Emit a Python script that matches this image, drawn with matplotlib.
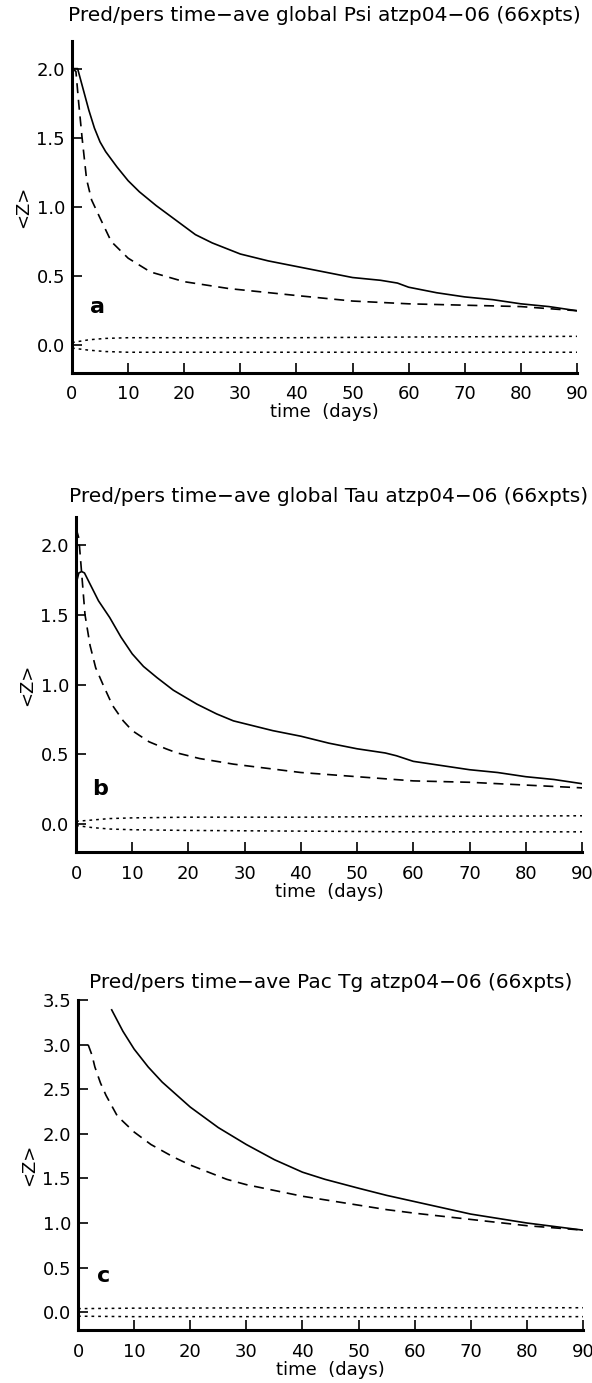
import numpy as np
import matplotlib.pyplot as plt

plt.rcParams['font.family'] = 'DejaVu Sans'

# Panel a: global Psi
ta_solid = [0, 1, 2, 3, 4, 5, 6, 8, 10, 12, 15, 18, 20, 22, 25, 30, 35, 40, 45, 50, 55, 58, 60, 65, 70, 75, 80, 85, 90]
va_solid = [2.0, 2.0, 1.85, 1.7, 1.57, 1.47, 1.40, 1.29, 1.19, 1.11, 1.01, 0.92, 0.86, 0.8, 0.74, 0.66, 0.61,
            0.57, 0.53, 0.49, 0.47, 0.45, 0.42, 0.38, 0.35, 0.33, 0.30, 0.28, 0.25]
ta_dash = [0, 0.7, 1.2, 1.8, 2.6, 3.5, 5, 7, 10, 14, 20, 28, 40, 50, 60, 70, 80, 90]
va_dash = [2.0, 1.98, 1.75, 1.5, 1.2, 1.05, 0.92, 0.75, 0.63, 0.53, 0.46, 0.41, 0.36, 0.32, 0.30, 0.29, 0.28, 0.25]
ta_dot = [0, 3, 6, 10, 20, 40, 60, 90]
va_dot_hi = [0.02, 0.04, 0.05, 0.055, 0.055, 0.055, 0.06, 0.065]
va_dot_lo = [-0.02, -0.035, -0.045, -0.05, -0.05, -0.05, -0.05, -0.05]

# Panel b: global Tau
tb_solid = [0, 0.5, 1, 1.5, 2.5, 4, 6, 8, 10, 12, 14.4, 17.3, 21.5, 25, 28, 35, 40, 45, 50, 55, 57, 60, 65, 70, 75, 80, 85, 90]
vb_solid = [1.72, 1.8, 1.81, 1.8, 1.72, 1.6, 1.48, 1.34, 1.22, 1.13, 1.05, 0.96, 0.86, 0.79, 0.74, 0.67,
            0.63, 0.58, 0.54, 0.51, 0.49, 0.45, 0.42, 0.39, 0.37, 0.34, 0.32, 0.29]
tb_dash = [0, 0.5, 1, 1.6, 2.5, 3.5, 4.8, 6.5, 8.4, 10, 13, 16, 18, 22, 28, 34, 40, 50, 60, 70, 80, 90]
vb_dash = [2.12, 2.05, 1.8, 1.5, 1.28, 1.12, 1.0, 0.85, 0.74, 0.67, 0.59, 0.54, 0.51, 0.47, 0.43, 0.40,
           0.37, 0.34, 0.31, 0.30, 0.28, 0.26]
tb_dot = [0, 3, 6, 10, 20, 40, 60, 90]
vb_dot_hi = [0.02, 0.03, 0.04, 0.045, 0.05, 0.05, 0.055, 0.06]
vb_dot_lo = [-0.01, -0.025, -0.035, -0.04, -0.045, -0.05, -0.055, -0.055]

# Panel c: Pac Tg
tc_solid = [6, 8, 10, 12.5, 15, 20, 25, 30, 35, 40, 44, 50, 55, 60, 65, 70, 75, 80, 85, 90]
vc_solid = [3.39, 3.15, 2.95, 2.75, 2.58, 2.3, 2.07, 1.88, 1.71, 1.57, 1.49, 1.39, 1.31, 1.24, 1.17,
            1.10, 1.05, 1.0, 0.96, 0.92]
tc_dash = [1.8, 2.5, 3, 4, 5, 7, 10, 13, 17, 20, 26.5, 30, 40, 50, 55, 60, 70, 80, 90]
vc_dash = [3.0, 2.88, 2.75, 2.57, 2.43, 2.2, 2.02, 1.88, 1.74, 1.65, 1.49, 1.43, 1.3, 1.2, 1.15, 1.11,
           1.04, 0.97, 0.92]
tc_dot = [0, 10, 40, 90]
vc_dot_hi = [0.04, 0.045, 0.05, 0.05]
vc_dot_lo = [-0.045, -0.05, -0.05, -0.05]

titles = ["Pred/pers time\u2212ave global Psi atzp04\u221206 (66xpts)",
          "Pred/pers time\u2212ave global Tau atzp04\u221206 (66xpts)",
          "Pred/pers time\u2212ave Pac Tg atzp04\u221206 (66xpts)"]
letters = ["a", "b", "c"]
letter_pos = [(4.6, 0.28), (4.3, 0.25), (4.6, 0.41)]
ylims = [(-0.2, 2.2), (-0.2, 2.2), (-0.2, 3.5)]
yticks = [np.arange(0, 2.01, 0.5), np.arange(0, 2.01, 0.5), np.arange(0, 3.51, 0.5)]
rects = [[0.1216, 0.7303, 0.853, 0.2401],
         [0.1284, 0.3839, 0.8547, 0.2422],
         [0.1318, 0.0383, 0.853, 0.2386]]
title_pads = [14, 11, 9]

data = [
    (ta_solid, va_solid, ta_dash, va_dash, ta_dot, va_dot_hi, va_dot_lo),
    (tb_solid, vb_solid, tb_dash, vb_dash, tb_dot, vb_dot_hi, vb_dot_lo),
    (tc_solid, vc_solid, tc_dash, vc_dash, tc_dot, vc_dot_hi, vc_dot_lo),
]

fig = plt.figure(figsize=(5.92, 13.83), dpi=100)

for i in range(3):
    ts, vs, td, vd, tdot, vhi, vlo = data[i]
    ax = fig.add_axes(rects[i])
    ax.plot(ts, vs, color='black', lw=1.2)
    ax.plot(td, vd, color='black', lw=1.2, linestyle=(0, (6, 4)))
    ax.plot(tdot, vhi, color='black', lw=1.1, linestyle=(0, (1.8, 2.6)))
    ax.plot(tdot, vlo, color='black', lw=1.1, linestyle=(0, (1.8, 2.6)))

    ax.set_xlim(0, 90)
    ax.set_ylim(*ylims[i])
    ax.set_xticks(np.arange(0, 91, 10))
    ax.set_yticks(yticks[i])
    ax.set_yticklabels(["%.1f" % y for y in yticks[i]])
    ax.spines['top'].set_visible(False)
    ax.spines['right'].set_visible(False)
    ax.spines['left'].set_linewidth(2.2)
    ax.spines['bottom'].set_linewidth(2.2)
    ax.tick_params(direction='in', length=7, width=1.2, labelsize=13, pad=5)
    ax.tick_params(axis='x', pad=9)

    ax.set_title(titles[i], fontsize=14.5, pad=title_pads[i])
    ax.set_xlabel("time  (days)", fontsize=13, labelpad=0)
    ax.set_ylabel("<Z>", fontsize=13, labelpad=3)
    ax.text(letter_pos[i][0], letter_pos[i][1], letters[i], fontsize=16,
            fontweight='bold', ha='center', va='center')

fig.savefig("out.png", dpi=100)
